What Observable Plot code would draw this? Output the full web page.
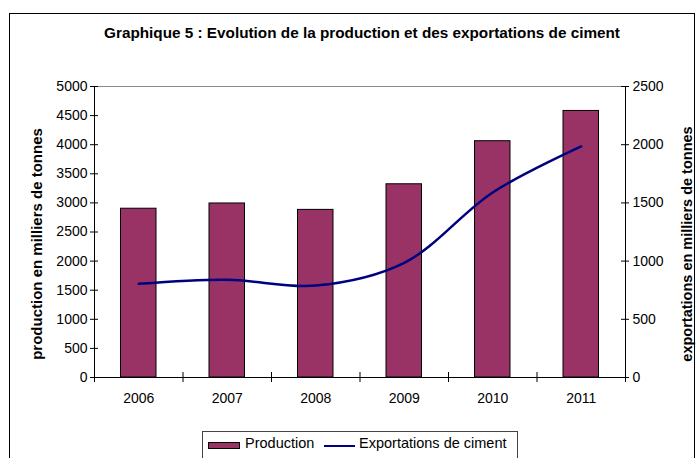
<!DOCTYPE html>
<html><head><meta charset="utf-8">
<script src="https://cdn.jsdelivr.net/npm/d3@7"></script>
<script src="https://cdn.jsdelivr.net/npm/@observablehq/plot@0.6"></script>
<style>
html,body{margin:0;padding:0;background:#fff;}
#root{position:relative;width:699px;height:458px;overflow:hidden;font-family:"Liberation Sans",Arial,sans-serif;color:#000;}
#frame{position:absolute;left:9px;top:13px;width:686px;height:480px;border:1px solid #000;box-sizing:border-box;}
#title{position:absolute;left:19px;width:686px;top:23px;text-align:center;font-weight:bold;font-size:15.3px;line-height:20px;}
#chart{position:absolute;left:0;top:50px;}
#legend{position:absolute;left:202px;top:431px;width:316px;height:40px;border:1px solid #444;box-sizing:border-box;font-size:14.5px;}
.sw{position:absolute;}
.lt{position:absolute;top:3px;line-height:17px;white-space:nowrap;}
</style></head>
<body><div id="root">
<div id="frame"></div>
<div id="title">Graphique 5 : Evolution de la production et des exportations de ciment</div>
<div id="chart"></div>
<div id="legend">
  <div class="sw" style="left:5px;top:10px;width:32px;height:7px;background:#993366;border:1px solid #000;box-sizing:border-box;"></div>
  <div class="lt" style="left:42px;">Production</div>
  <div class="sw" style="left:121px;top:13px;width:31px;height:2px;background:#000080;"></div>
  <div class="lt" style="left:156px;">Exportations de ciment</div>
</div>
</div>
<script>
const years = ["2006","2007","2008","2009","2010","2011"];
const production = [2900, 2990, 2880, 3320, 4060, 4580];
const exportations = [805, 840, 790, 985, 1590, 1985];
const leftTicks = [0,500,1000,1500,2000,2500,3000,3500,4000,4500,5000];
const rightTicks = [0,500,1000,1500,2000,2500];

const data = years.map((y,i)=>({year:y, i, prod:production[i], exp:exportations[i]}));
const bounds = d3.range(0, years.length + 1);
const mids = years.map((y,i)=>i+0.5);
const R = 5000/2500;

const chart = Plot.plot({
  width: 699, height: 370,
  marginTop: 36, marginBottom: 43, marginLeft: 94, marginRight: 74,
  style: {fontFamily: '"Liberation Sans", Arial, sans-serif', fontSize: "14px", color: "#000", background: "transparent"},
  x: {type: "linear", domain: [0, years.length], axis: null},
  y: {domain: [0, 5000], axis: null},
  marks: [
    Plot.rectY(data, {x1: d=>d.i, x2: d=>d.i+1, y: "prod", fill: "#993366", stroke: "#000", strokeWidth: 1, insetLeft: 26.5, insetRight: 26.5}),
    Plot.ruleY([5000], {stroke: "#888"}),
    Plot.ruleX([0, years.length], {stroke: "#000"}),
    Plot.ruleY([0], {stroke: "#000"}),
    Plot.ruleY(leftTicks, {y: d=>d, x1: 0, x2: 0, insetLeft: -4, insetRight: -4, stroke: "#000"}),
    Plot.ruleY(rightTicks, {y: d=>d*R, x1: years.length, x2: years.length, insetLeft: -4, insetRight: -4, stroke: "#000"}),
    Plot.ruleX(bounds, {x: d=>d, y1: 0, y2: 0, insetTop: -5, insetBottom: -5, stroke: "#000"}),
    Plot.line(data, {x: d=>d.i+0.5, y: d=>d.exp*R, curve: "catmull-rom", stroke: "#000080", strokeWidth: 2.5}),
    Plot.axisY({ticks: leftTicks, tickFormat: d=>String(d), tickSize: 0, tickPadding: 7, label: null}),
    Plot.axisY({anchor: "right", ticks: rightTicks.map(d=>d*R), tickFormat: d=>String(d/R), tickSize: 0, tickPadding: 7, label: null}),
    Plot.axisX({ticks: mids, tickFormat: d=>years[Math.floor(d)], tickSize: 0, tickPadding: 16, label: null}),
    Plot.text(["production en milliers de tonnes"], {frameAnchor: "left", dx: -57, dy: 12, rotate: -90, textAnchor: "middle", lineAnchor: "middle", fontWeight: "bold", fontSize: 15}),
    Plot.text(["exportations en milliers de tonnes"], {frameAnchor: "right", dx: 62, dy: 12, rotate: -90, textAnchor: "middle", lineAnchor: "middle", fontWeight: "bold", fontSize: 14.5})
  ]
});
document.getElementById("chart").appendChild(chart);
</script>
</body></html>
